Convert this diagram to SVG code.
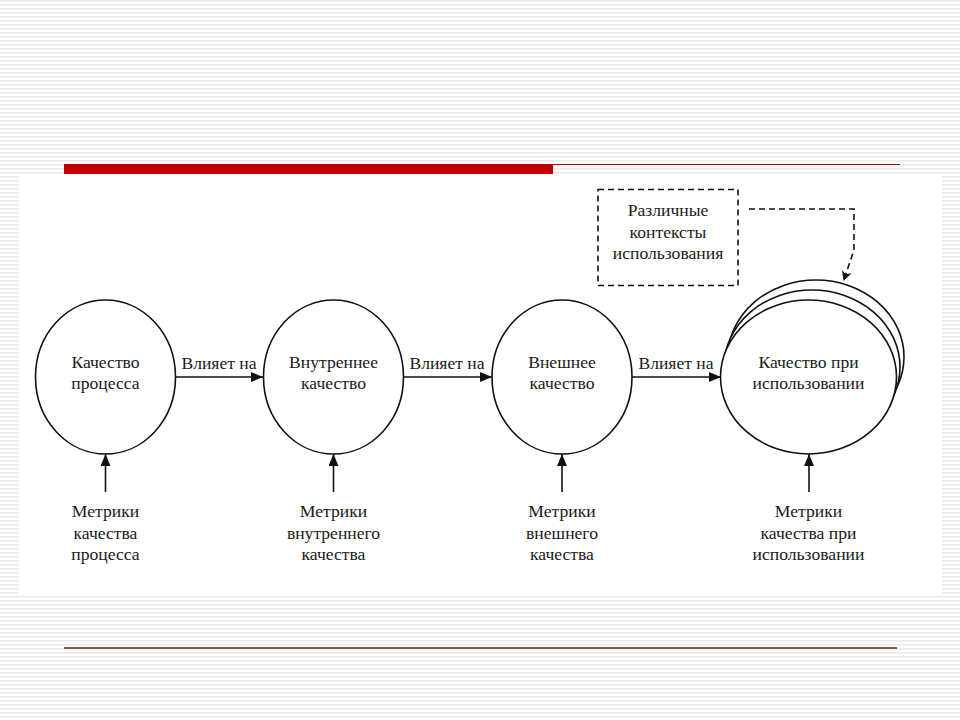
<svg xmlns="http://www.w3.org/2000/svg" width="960" height="720" viewBox="0 0 960 720">
  <defs>
    <pattern id="stripes" x="0" y="0" width="8" height="4" patternUnits="userSpaceOnUse">
      <rect x="0" y="0" width="8" height="4" fill="#ffffff"/>
      <rect x="0" y="0" width="8" height="1.6" fill="#ebebeb"/>
    </pattern>
    <marker id="arrow" markerWidth="12" markerHeight="10" refX="12" refY="5" orient="auto" markerUnits="userSpaceOnUse">
      <path d="M0,0 L12,5 L0,10 z" fill="#111"/>
    </marker>
    <marker id="arrowDash" markerWidth="12" markerHeight="12" refX="10" refY="6" orient="auto" markerUnits="userSpaceOnUse">
      <path d="M0,1 L10,6 L0,11 L3,6 z" fill="#111"/>
    </marker>
  </defs>
  <style>
    .node { fill: #ffffff; stroke: #111; stroke-width: 1.6; }
    .t { font-family: "Liberation Serif", "Times New Roman", serif; font-size: 17.6px; fill: #1a1a1a; text-anchor: middle; }
    .conn { stroke: #111; stroke-width: 1.6; fill: none; }
    .dash { stroke: #111; stroke-width: 1.6; fill: none; stroke-dasharray: 6 4; }
  </style>

  <!-- slide background -->
  <rect x="0" y="0" width="960" height="720" fill="url(#stripes)"/>
  <rect x="19" y="175" width="923" height="420" fill="#ffffff"/>
  <rect x="64" y="164" width="489" height="10" fill="#c00000"/>
  <line x1="553" y1="164.5" x2="900" y2="164.5" stroke="#a01010" stroke-width="1.2"/>
  <line x1="64" y1="648" x2="897" y2="648" stroke="#6b1c1c" stroke-width="1.4"/>

  <!-- connectors -->
  <g id="connectors">
    <line class="conn" x1="176" y1="377" x2="263" y2="377" marker-end="url(#arrow)"/>
    <line class="conn" x1="404" y1="377" x2="492" y2="377" marker-end="url(#arrow)"/>
    <line class="conn" x1="632" y1="377" x2="721" y2="377" marker-end="url(#arrow)"/>
    <text class="t" x="219" y="369">Влияет на</text>
    <text class="t" x="447" y="369">Влияет на</text>
    <text class="t" x="676" y="369">Влияет на</text>

    <line class="conn" x1="105.5" y1="492" x2="105.5" y2="454" marker-end="url(#arrow)"/>
    <line class="conn" x1="333.5" y1="492" x2="333.5" y2="454" marker-end="url(#arrow)"/>
    <line class="conn" x1="562" y1="492" x2="562" y2="454" marker-end="url(#arrow)"/>
    <line class="conn" x1="809" y1="492" x2="809" y2="454" marker-end="url(#arrow)"/>

    <path class="dash" d="M749,209 H854 V250 L843.5,281" marker-end="url(#arrowDash)"/>
  </g>

  <!-- nodes -->
  <g id="node-process">
    <ellipse class="node" cx="105.5" cy="377" rx="70" ry="77"/>
    <text class="t" x="105.5" y="368">Качество</text>
    <text class="t" x="105.5" y="389">процесса</text>
  </g>
  <g id="node-internal">
    <ellipse class="node" cx="333.5" cy="377" rx="70" ry="77"/>
    <text class="t" x="333.5" y="368">Внутреннее</text>
    <text class="t" x="333.5" y="389">качество</text>
  </g>
  <g id="node-external">
    <ellipse class="node" cx="562" cy="377" rx="70" ry="77"/>
    <text class="t" x="562" y="368">Внешнее</text>
    <text class="t" x="562" y="389">качество</text>
  </g>
  <g id="node-in-use">
    <ellipse class="node" cx="816" cy="357" rx="88" ry="77"/>
    <ellipse class="node" cx="812" cy="367" rx="88" ry="77"/>
    <ellipse class="node" cx="808.5" cy="377" rx="88" ry="77"/>
    <text class="t" x="808.5" y="368">Качество при</text>
    <text class="t" x="808.5" y="389">использовании</text>
  </g>

  <g id="node-contexts">
    <rect class="dash" x="598" y="189.5" width="140" height="96"/>
    <text class="t" x="668" y="216">Различные</text>
    <text class="t" x="668" y="238">контексты</text>
    <text class="t" x="668" y="259">использования</text>
  </g>

  <g id="metric-process">
    <text class="t" x="105.5" y="517">Метрики</text>
    <text class="t" x="105.5" y="539">качества</text>
    <text class="t" x="105.5" y="560">процесса</text>
  </g>
  <g id="metric-internal">
    <text class="t" x="333.5" y="517">Метрики</text>
    <text class="t" x="333.5" y="539">внутреннего</text>
    <text class="t" x="333.5" y="560">качества</text>
  </g>
  <g id="metric-external">
    <text class="t" x="562" y="517">Метрики</text>
    <text class="t" x="562" y="539">внешнего</text>
    <text class="t" x="562" y="560">качества</text>
  </g>
  <g id="metric-in-use">
    <text class="t" x="808.5" y="517">Метрики</text>
    <text class="t" x="808.5" y="539">качества при</text>
    <text class="t" x="808.5" y="560">использовании</text>
  </g>
</svg>
